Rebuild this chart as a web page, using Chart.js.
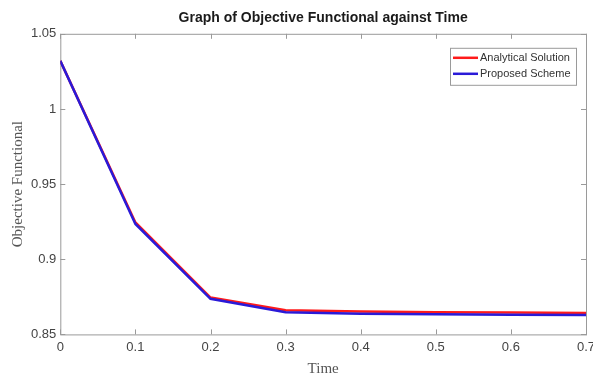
<!DOCTYPE html>
<html>
<head>
<meta charset="utf-8">
<script src="https://cdn.jsdelivr.net/npm/chart.js@4/dist/chart.umd.min.js"></script>
<style>
    html, body { margin: 0; padding: 0; background: #fff; }
    #wrap { width: 593px; height: 378px; }
</style>
</head>
<body>
<div id="wrap"><canvas id="objChart" width="593" height="378"></canvas></div>
<script>
// Data
const timeValues = [0, 0.1, 0.2, 0.3, 0.4, 0.5, 0.6, 0.7];
const analyticalSolution = [1.032, 0.9245, 0.8745, 0.866, 0.8652, 0.8648, 0.8645, 0.8643];
const proposedScheme = [1.032, 0.9235, 0.8737, 0.8648, 0.8638, 0.8634, 0.8631, 0.8629];
const yTicks = [0.85, 0.9, 0.95, 1, 1.05];
const seriesLabels = ['Analytical Solution', 'Proposed Scheme'];

const toPoints = (ys) => timeValues.map((t, i) => ({ x: t, y: ys[i] }));

// Box around the plot, inward ticks and the legend, matlab style
const boxPlugin = {
    id: 'boxPlugin',
    beforeDatasetsDraw(chart) {
        const { ctx, chartArea: a, scales } = chart;
        ctx.save();
        ctx.strokeStyle = '#9a9a9a';
        ctx.lineWidth = 1;
        ctx.strokeRect(a.left + 0.5, a.top + 0.5, a.right - a.left, a.bottom - a.top);
        ctx.beginPath();
        timeValues.forEach(t => {
            const px = Math.round(scales.x.getPixelForValue(t)) + 0.5;
            ctx.moveTo(px, a.bottom); ctx.lineTo(px, a.bottom - 5);
            ctx.moveTo(px, a.top); ctx.lineTo(px, a.top + 5);
        });
        yTicks.forEach(v => {
            const py = Math.round(scales.y.getPixelForValue(v)) + 0.5;
            ctx.moveTo(a.left, py); ctx.lineTo(a.left + 5, py);
            ctx.moveTo(a.right, py); ctx.lineTo(a.right - 5, py);
        });
        ctx.stroke();
        ctx.restore();
    },
    afterDatasetsDraw(chart) {
        const { ctx, chartArea: a } = chart;
        const w = 126, h = 37;
        const x0 = a.right - w - 10, y0 = a.top + 14;
        ctx.save();
        ctx.fillStyle = '#fff';
        ctx.fillRect(x0, y0, w, h);
        ctx.strokeStyle = '#9a9a9a';
        ctx.lineWidth = 1;
        ctx.strokeRect(x0 + 0.5, y0 + 0.5, w, h);
        ctx.font = '11px "Liberation Sans Narrow", "Liberation Sans", Arial, sans-serif';
        ctx.textBaseline = 'middle';
        chart.data.datasets.forEach((ds, i) => {
            const yy = y0 + 10 + i * 16;
            ctx.strokeStyle = ds.borderColor;
            ctx.lineWidth = 2.5;
            ctx.beginPath();
            ctx.moveTo(x0 + 3, yy); ctx.lineTo(x0 + 28, yy);
            ctx.stroke();
            ctx.fillStyle = '#333';
            ctx.fillText(ds.label, x0 + 30, yy);
        });
        ctx.restore();
    }
};

new Chart(document.getElementById('objChart'), {
    type: 'line',
    data: {
        datasets: [{
            label: seriesLabels[0],
            data: toPoints(analyticalSolution),
            borderColor: '#ff1a1a',
            borderWidth: 2.5,
            pointRadius: 0,
            tension: 0,
            fill: false,
            order: 1
        }, {
            label: seriesLabels[1],
            data: toPoints(proposedScheme),
            borderColor: '#2a1ad8',
            borderWidth: 2.5,
            pointRadius: 0,
            tension: 0,
            fill: false,
            order: 0
        }]
    },
    options: {
        responsive: false,
        animation: false,
        layout: { padding: { left: 9, right: 7, top: 4, bottom: 0 } },
        plugins: {
            legend: { display: false },
            tooltip: { enabled: false },
            title: {
                display: true,
                fullSize: false,
                text: 'Graph of Objective Functional against Time',
                color: '#1a1a1a',
                font: { family: '"Liberation Sans Narrow", "Liberation Sans", Arial, sans-serif', size: 14, weight: 'bold' },
                padding: { top: 6, bottom: 7 }
            }
        },
        scales: {
            x: {
                type: 'linear',
                min: 0,
                max: 0.7,
                grid: { display: false, drawTicks: false },
                border: { display: false },
                afterBuildTicks: (axis) => { axis.ticks = timeValues.map(v => ({ value: v })); },
                afterFit: (axis) => { axis.paddingRight = 0; },
                ticks: {
                    color: '#444',
                    padding: 5,
                    maxRotation: 0,
                    font: { family: '"Liberation Sans Narrow", "Liberation Sans", Arial, sans-serif', size: 13 },
                    callback: (v) => String(Math.round(v * 10) / 10)
                },
                title: {
                    display: true,
                    text: 'Time',
                    color: '#555',
                    font: { family: '"Liberation Serif", "Times New Roman", serif', size: 15 },
                    padding: { top: 0, bottom: 0 }
                }
            },
            y: {
                min: 0.85,
                max: 1.05,
                grid: { display: false, drawTicks: false },
                border: { display: false },
                afterBuildTicks: (axis) => { axis.ticks = yTicks.map(v => ({ value: v })); },
                ticks: {
                    color: '#444',
                    padding: 4,
                    font: { family: '"Liberation Sans Narrow", "Liberation Sans", Arial, sans-serif', size: 13 },
                    callback: (v) => String(Math.round(v * 100) / 100)
                },
                title: {
                    display: true,
                    text: 'Objective Functional',
                    color: '#555',
                    font: { family: '"Liberation Serif", "Times New Roman", serif', size: 15 },
                    padding: { top: 0, bottom: 0 }
                }
            }
        }
    },
    plugins: [boxPlugin]
});
</script>
</body>
</html>
